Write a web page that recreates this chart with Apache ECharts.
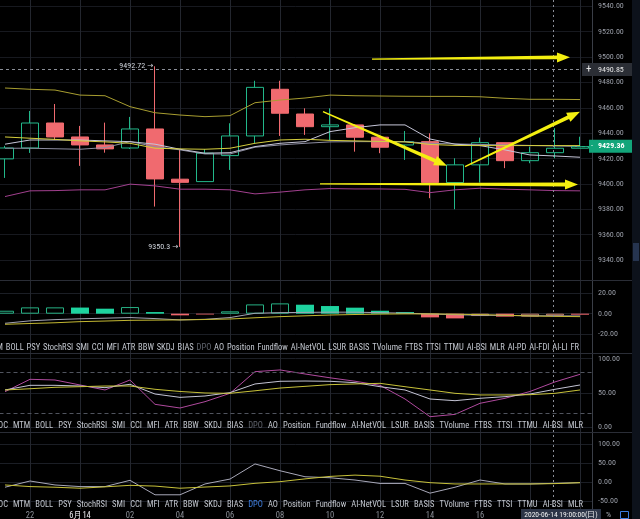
<!DOCTYPE html>
<html><head><meta charset="utf-8">
<script src="https://cdn.jsdelivr.net/npm/echarts@6/dist/echarts.min.js"></script>
<style>html,body{margin:0;padding:0;background:#000;}#c{width:640px;height:519px;}</style>
</head><body><div id="c"></div>
<script>
// ---------- data ----------
const categories = ['21','22','23','6月14','01','02','03','04','05','06','07','08','09','10','11','12','13','14','15','16','17','18','19','20'];
const openP  = [9419.7,9428.3,9448.0,9437.0,9430.7,9428.3,9443.3,9403.7,9401.8,9422.3,9437.8,9474.6,9455.1,9445.1,9446.5,9436.8,9430.7,9433.3,9401.0,9415.0,9432.5,9418.3,9424.6,9428.1];
const closeP = [9428.3,9448.0,9437.0,9430.7,9427.6,9443.3,9403.9,9401.2,9424.2,9437.8,9476.1,9455.7,9445.1,9446.5,9436.8,9428.9,9433.3,9401.0,9415.0,9432.5,9418.3,9424.6,9428.1,9429.36];
const lowP   = [9404.7,9424.4,9434.6,9414.2,9424.6,9427.5,9382.1,9350.3,9401.8,9411.0,9432.0,9437.8,9438.6,9434.6,9425.4,9424.2,9418.9,9388.7,9380.0,9401.0,9412.4,9416.3,9420.2,9428.1];
const highP  = [9430.0,9457.5,9463.0,9445.7,9448.3,9452.8,9492.72,9426.8,9427.3,9447.8,9481.3,9481.3,9459.6,9459.6,9447.0,9438.6,9441.7,9439.9,9420.2,9436.5,9432.5,9429.4,9443.9,9437.2];
const bandUpper = [9475.6,9474.6,9474.0,9470.0,9469.5,9460.9,9456.1,9454.3,9453.0,9453.8,9464.0,9466.1,9467.7,9470.0,9469.5,9469.3,9469.1,9469.0,9469.0,9468.7,9467.5,9466.7,9466.7,9466.5];
const bandLower = [9390.0,9394.5,9394.7,9395.3,9395.3,9399.8,9398.4,9395.8,9395.8,9395.3,9392.1,9393.5,9395.3,9396.3,9396.0,9396.0,9395.7,9393.1,9395.3,9396.6,9395.8,9395.3,9394.7,9394.5];
const maYellow = [9437.0,9436.0,9435.1,9433.9,9433.1,9432.0,9428.1,9427.6,9427.3,9428.1,9432.0,9434.6,9435.2,9434.3,9433.9,9433.5,9433.1,9431.1,9430.3,9430.2,9430.2,9430.2,9430.2,9430.2];
const maWhite  = [9431.3,9434.6,9434.6,9434.6,9433.9,9433.3,9431.3,9427.3,9424.2,9424.6,9429.4,9432.0,9433.3,9441.2,9444.3,9446.5,9446.5,9435.4,9431.3,9430.2,9426.8,9422.8,9422.0,9421.0];
const maGray   = [9428.1,9428.1,9427.7,9427.3,9428.6,9433.3,9429.4,9426.8,9423.6,9423.6,9428.9,9430.7,9432.0,9433.1,9433.3,9433.3,9433.3,9432.0,9431.5,9431.1,9430.7,9430.3,9429.9,9429.5];
const highLowMarks = [{idx:6, text:'9492.72 →', value:9492.72},{idx:7, text:'9350.3 →', value:9350.3}];
const crossPrice = 9490.85, crossIdx = 22, lastPrice = 9429.36;
const crossTime = '2020-06-14 19:00:00(日)';
// arrows: [fromIndex, fromPrice, toIndex, toPrice]
const arrows = [[14.68,9498.4,22.6,9499.8],[12.72,9456.9,17.68,9414.2],[18.4,9413.6,23.0,9456.9],[12.6,9400.0,22.92,9399.5]];

const macdHist   = [2.9,6.2,6.2,6.0,4.9,6.5,1.6,-1.6,-0.8,2.3,9.1,10.1,8.8,7.5,5.9,2.9,1.6,-3.6,-4.6,-2.3,-2.9,-2.9,-2.0,-1.0];
const macdHollow = [1,1,1,0,0,1,0,0,0,1,1,1,0,0,0,0,0,0,0,1,0,1,1,0];
const macdDif = [-9.4,-7.0,-5.8,-5.0,-4.4,-3.8,-4.8,-6.1,-5.5,-3.8,0.4,1.0,1.3,1.5,1.5,1.0,0.5,-0.3,-1.0,-1.5,-1.8,-2.0,-2.2,-2.2];
const macdDea = [-10.4,-9.6,-8.9,-7.8,-7.2,-6.5,-6.3,-6.1,-5.7,-5.2,-4.0,-2.9,-2.1,-1.3,-0.8,-0.4,-0.2,-0.2,-0.5,-0.9,-1.5,-2.2,-2.6,-2.9];

const kdjJ = [51.7,69.8,68.8,61.5,54.2,68.8,33.2,27.8,37.1,49.3,81.0,83.5,77.6,72.0,67.0,61.0,41.0,15.1,18.5,34.7,42.0,52.0,66.0,77.1];
const kdjK = [54.2,61.0,61.0,60.0,57.6,62.5,48.3,43.4,45.4,50.3,63.0,66.9,67.3,66.9,64.9,59.0,54.2,41.0,38.5,42.0,44.4,48.3,55.2,61.5];
const kdjD = [54.2,56.0,58.1,59.0,60.0,60.0,55.2,52.0,49.8,49.3,53.0,57.0,59.5,62.0,63.0,63.9,59.0,54.2,49.3,46.9,46.9,47.3,49.3,54.2];

const p4Gray   = [-13,3.4,-7,-11.3,-11.3,5.2,-32.9,-32.9,-4.4,8.5,48.3,30.4,14.6,12,6,-3,-3,-28.6,-13,6,-4.4,-4.4,-2.7,-1];
const p4Yellow = [-7,-11.3,-13,-15.6,-12,-8,-10,-15.6,-12.5,-9.6,-2.7,1.6,9,15.5,18.9,16,6,-1,-4.4,-4.4,-4.4,-4.4,-3.5,-1];

const priceTicks = [9340,9360,9380,9400,9420,9440,9460,9480,9500,9520,9540];
const macdTicks = [-20,0,20];
const kdjTicks = [0,50,100];
const p4Ticks = [-50,0,50,100];

const row1Words = ['MTM','BOLL','PSY','StochRSI','SMI','CCI','MFI','ATR','BBW','SKDJ','BIAS','DPO','AO','Position','Fundflow','AI-NetVOL','LSUR','BASIS','TVolume','FTBS','TTSI','TTMU','AI-BSI','MLR','AI-PD','AI-FDI','AI-LI','FR'];
const row2Words = ['ROC','MTM','BOLL','PSY','StochRSI','SMI','CCI','MFI','ATR','BBW','SKDJ','BIAS','DPO','AO','Position','Fundflow','AI-NetVOL','LSUR','BASIS','TVolume','FTBS','TTSI','TTMU','AI-BSI','MLR'];

// ---------- style ----------
const FONT = "'Liberation Sans Narrow','Roboto Condensed','DejaVu Sans Condensed',sans-serif";
const UP = '#22b88a', DOWN = '#f06a6f';
const panels = [{top:0,height:280},{top:280,height:73},{top:353,height:79},{top:432,height:77}];
const yRanges = [[9324.2,9545],[-38.5,33.0],[-7.3,108.3],[-70.3,132.4]];
const yTicks = [priceTicks, macdTicks, kdjTicks, p4Ticks];
const labelEvery = (i) => i % 2 === 1;

const chart = echarts.init(document.getElementById('c'), null, {renderer:'canvas', width:640, height:519});

const grids = panels.map(p => ({left:-7.5, width:600, top:p.top, height:p.height, outerBoundsMode:'none', containLabel:false}));
const xAxes = panels.map((p,i) => ({
  type:'category', gridIndex:i, data:categories, boundaryGap:true,
  axisLine:{show:false}, axisTick:{show:false},
  axisLabel:{show:i===3, interval:labelEvery, margin:2, fontSize:8.5, fontFamily:FONT,
    color:(v)=> v==='6月14' ? '#e8e8ec' : '#8c9099', fontWeight:(i===3)?'normal':'normal'},
  splitLine:{show:true, interval:labelEvery, alignWithLabel:true, lineStyle:{color:'#23262e', width:1}}
}));
const yAxes = panels.map((p,i) => ({
  type:'value', gridIndex:i, position:'right', min:yRanges[i][0], max:yRanges[i][1], scale:true,
  axisLine:{show:false}, axisTick:{show:false, customValues:yTicks[i]},
  axisLabel:{customValues:yTicks[i], formatter:(v)=>Number(v).toFixed(2), color:'#9a9ea8', fontSize:8, fontFamily:FONT, margin:5.5},
  splitLine:{show:true, lineStyle:{color: i===0 ? '#17191f' : '#1b1e25', width:1}}
}));

const line = (data, color, xi, extra) => Object.assign({
  type:'line', data, xAxisIndex:xi, yAxisIndex:xi, symbol:'none', smooth:false,
  lineStyle:{color, width:1}, itemStyle:{color}, z:3, silent:true
}, extra||{});

const macdData = macdHist.map((v,i) => {
  const pos = v >= 0;
  const hollow = macdHollow[i] === 1;
  const c = pos ? (hollow ? '#27b184' : '#1ed39f') : (hollow ? '#c9836c' : '#f0666c');
  return {value:v, itemStyle: hollow ? {color:'rgba(0,0,0,0)', borderColor:c, borderWidth:1} : {color:c, borderColor:c, borderWidth:0}};
});

const option = {
  backgroundColor:'#000000',
  animation:false,
  grid:grids, xAxis:xAxes, yAxis:yAxes,
  series:[
    {type:'candlestick', xAxisIndex:0, yAxisIndex:0, barWidth:18, z:2, silent:true,
     data: categories.map((c,i)=>[openP[i], closeP[i], lowP[i], highP[i]]),
     itemStyle:{color:'rgba(0,0,0,0)', color0:DOWN, borderColor:UP, borderColor0:DOWN, borderWidth:1}},
    line(bandUpper,'#a89e30',0),
    line(bandLower,'#a2408f',0),
    line(maGray,'#8e8ea2',0),
    line(maWhite,'#c6c6d8',0),
    line(maYellow,'#d6cf3e',0),
    {type:'bar', xAxisIndex:1, yAxisIndex:1, barWidth:18, data:macdData, silent:true, z:2},
    line(macdDif,'#a4a4b4',1),
    line(macdDea,'#c4b832',1),
    line(kdjJ,'#b04a9e',2,{markLine:{silent:true, symbol:['none','none'], label:{show:false},
      lineStyle:{color:'#50545e', type:[4,3], width:1}, data:[{yAxis:80},{yAxis:20}]}}),
    line(kdjK,'#c4c4d4',2),
    line(kdjD,'#c8c23a',2),
    line(p4Gray,'#a8a8b8',3),
    line(p4Yellow,'#c8c23a',3)
  ]
};
chart.setOption(option);

// ---------- overlays computed through the axes ----------
const xPx = (idx) => {
  const a = chart.convertToPixel({xAxisIndex:0}, categories[0]);
  const b = chart.convertToPixel({xAxisIndex:0}, categories[1]);
  return a + (b - a) * idx;
};
const yPx = (price) => chart.convertToPixel({yAxisIndex:0}, price);

const g = [];
// right strip
g.push({type:'rect', shape:{x:632,y:0,width:8,height:519}, style:{fill:'#0d121b'}, z:10});
g.push({type:'rect', shape:{x:633,y:243,width:6,height:18}, style:{fill:'#26344f'}, z:11});
// separators
g.push({type:'line', shape:{x1:592.5,y1:0,x2:592.5,y2:509}, style:{stroke:'#3a3e47', lineWidth:1}, z:10});
[280.5,353.5,432.5].forEach(y => g.push({type:'line', shape:{x1:0,y1:y,x2:632,y2:y}, style:{stroke:'#2a2d36', lineWidth:1}, z:10}));

// crosshair
const cx = Math.round(xPx(crossIdx)) - 1.5;
g.push({type:'line', shape:{x1:cx,y1:0,x2:cx,y2:509}, style:{stroke:'#8a8e97', lineWidth:1, lineDash:[2,3]}, z:12});
const cy = Math.round(yPx(crossPrice)) + 0.5;
g.push({type:'line', shape:{x1:0,y1:cy,x2:582,y2:cy}, style:{stroke:'#8a8e97', lineWidth:1, lineDash:[3,3]}, z:12});
g.push({type:'rect', shape:{x:582,y:cy-6.5,width:50,height:13}, style:{fill:'#2b2e35'}, z:13});
g.push({type:'text', x:586, y:cy, style:{text:'+', fill:'#e6e6e6', font:'11px '+FONT, textAlign:'left', align:'left', textVerticalAlign:'middle', verticalAlign:'middle'}, z:14});
g.push({type:'text', x:598, y:cy, style:{text:crossPrice.toFixed(2), fill:'#e6e6e6', font:'8px '+FONT, textAlign:'left', align:'left', textVerticalAlign:'middle', verticalAlign:'middle'}, z:14});

// last price label
const ly = yPx(lastPrice) - 0.5;
g.push({type:'line', shape:{x1:572,y1:ly+0.5,x2:590,y2:ly+0.5}, style:{stroke:UP, lineWidth:1, lineDash:[3,2]}, z:12});
g.push({type:'rect', shape:{x:589,y:ly-6.5,width:43,height:13}, style:{fill:'#12a57a'}, z:13});
g.push({type:'text', x:591, y:ly, style:{text:'-', fill:'#ffffff', font:'8px '+FONT, textAlign:'left', align:'left', textVerticalAlign:'middle', verticalAlign:'middle'}, z:14});
g.push({type:'text', x:598, y:ly, style:{text:lastPrice.toFixed(2), fill:'#ffffff', font:'bold 8px '+FONT, textAlign:'left', align:'left', textVerticalAlign:'middle', verticalAlign:'middle'}, z:14});

// high / low labels
highLowMarks.forEach(m => {
  g.push({type:'text', x:xPx(m.idx)-2, y:yPx(m.value), style:{text:m.text, fill:'#cfd3db', font:'8px '+FONT, textAlign:'right', align:'right', textVerticalAlign:'middle', verticalAlign:'middle'}, z:14});
});

// arrows
arrows.forEach(a => {
  const p0 = [xPx(a[0]), yPx(a[1])], p1 = [xPx(a[2]), yPx(a[3])];
  const dx = p1[0]-p0[0], dy = p1[1]-p0[1], L = Math.hypot(dx,dy);
  const ux = dx/L, uy = dy/L, nx = -uy, ny = ux;
  const hl = 13, hh = 5, th = 0.7, nh = 1.9;
  const bx = p1[0]-ux*hl, by = p1[1]-uy*hl;
  const pts = [
    [p0[0]+nx*th, p0[1]+ny*th], [bx+nx*nh, by+ny*nh], [bx+nx*hh, by+ny*hh], p1,
    [bx-nx*hh, by-ny*hh], [bx-nx*nh, by-ny*nh], [p0[0]-nx*th, p0[1]-ny*th]
  ];
  g.push({type:'polygon', shape:{points:pts}, style:{fill:'#f4ef10'}, z:15});
});

// tab rows
const mctx = document.createElement('canvas').getContext('2d');
function row(words, firstRight, lastRight, y, dimIdx, dimColor) {
  const font = '8.5px ' + FONT;
  mctx.font = font;
  const w = words.map(t => mctx.measureText(t).width);
  const inner = w.slice(1).reduce((s,v)=>s+v, 0);
  const gap = (lastRight - firstRight - inner) / (words.length - 1);
  let x = firstRight - w[0];
  words.forEach((t,k) => {
    g.push({type:'text', x:x, y:y, style:{text:t, fill: k===dimIdx ? dimColor : '#c3c7cf', font:font, textAlign:'left', align:'left', textVerticalAlign:'middle', verticalAlign:'middle'}, z:14});
    x += w[k] + gap;
  });
}
row(row1Words, 3, 579, 347.5, row1Words.indexOf('DPO'), '#5f636c');
row(row2Words, 8, 583, 426, row2Words.indexOf('DPO'), '#5f636c');
row(row2Words, 8, 583, 505, row2Words.indexOf('DPO'), '#3f7fe0');

// time box
g.push({type:'rect', shape:{x:521,y:509,width:80,height:12}, style:{fill:'#2c3446'}, z:13});
g.push({type:'text', x:561, y:515, style:{text:crossTime, fill:'#f0f0f0', font:'7.5px '+FONT, textAlign:'center', align:'center', textVerticalAlign:'middle', verticalAlign:'middle'}, z:14});
g.push({type:'text', x:606, y:515, style:{text:'%', fill:'#b0b4bc', font:'8px '+FONT, textAlign:'left', align:'left', textVerticalAlign:'middle', verticalAlign:'middle'}, z:14});
g.push({type:'rect', shape:{x:620.5,y:511.5,width:8,height:7}, style:{fill:'none', stroke:'#3c7be0', lineWidth:1}, z:14});

chart.setOption({graphic:g});
</script></body></html>
